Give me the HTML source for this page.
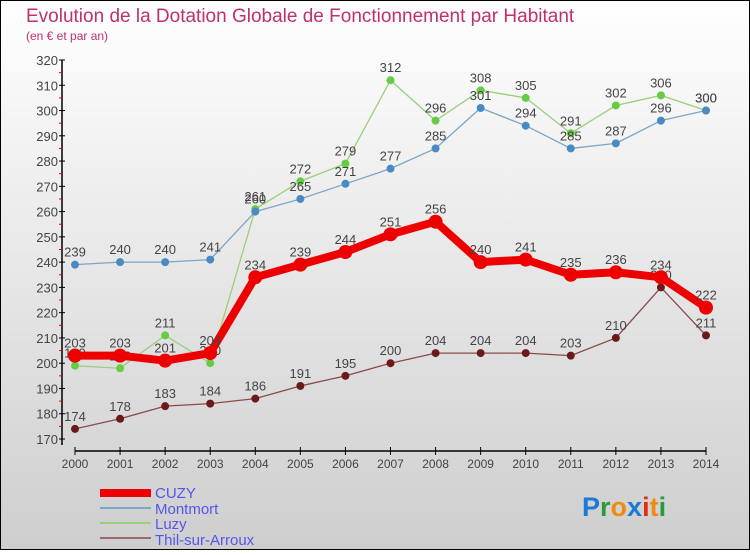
<!DOCTYPE html>
<html><head><meta charset="utf-8"><style>
html,body{margin:0;padding:0}
body{width:750px;height:550px;overflow:hidden;font-family:"Liberation Sans",sans-serif}
</style></head><body>
<svg id="chart" width="750" height="550" xmlns="http://www.w3.org/2000/svg">
<defs><linearGradient id="bg" x1="0" y1="0" x2="0" y2="1"><stop offset="0" stop-color="#ffffff"/><stop offset="1" stop-color="#cecece"/></linearGradient></defs>
<rect x="0.5" y="0.5" width="749" height="549" fill="url(#bg)" stroke="#000"/>
<text x="26" y="22" font-size="19" fill="#c0306a">Evolution de la Dotation Globale de Fonctionnement par Habitant</text>
<text x="26" y="40" font-size="12" fill="#c0306a">(en € et par an)</text>
<g id="axes"></g><g id="series"></g>
<g font-size="15" fill="#5555ee">
<rect x="100" y="489" width="51" height="8" fill="#e00"/>
<text x="155" y="498" fill="#5555ee">CUZY</text>
<rect x="100" y="507" width="51" height="2" fill="#7aa6c8"/>
<text x="155" y="514" fill="#5555ee">Montmort</text>
<rect x="100" y="522" width="51" height="2" fill="#99d07a"/>
<text x="155" y="529" fill="#5555ee">Luzy</text>
<rect x="100" y="537" width="51" height="2" fill="#9a6a6a"/>
<text x="155" y="545" fill="#5555ee">Thil-sur-Arroux</text>
</g>
<g font-size="27" font-weight="bold" font-family="Liberation Sans, sans-serif">
<text x="582" y="516"><tspan fill="#1a7ad4">P</tspan><tspan fill="#2a9a3a">r</tspan><tspan fill="#f08a10">o</tspan><tspan fill="#1a7ad4">x</tspan><tspan fill="#e03010">i</tspan><tspan fill="#f08a10">t</tspan><tspan fill="#2a9a3a">i</tspan></text>
</g>
</svg>
<script>
const years=[2000,2001,2002,2003,2004,2005,2006,2007,2008,2009,2010,2011,2012,2013,2014];
const cuzy=[203,203,201,204,234,239,244,251,256,240,241,235,236,234,222];
const montmort=[239,240,240,241,260,265,271,277,285,301,294,285,287,296,300];
const luzy=[199,198,211,200,261,272,279,312,296,308,305,291,302,306,300];
const thil=[174,178,183,184,186,191,195,200,204,204,204,203,210,230,211];
const yTicks=[170,180,190,200,210,220,230,240,250,260,270,280,290,300,310,320];
const NS="http://www.w3.org/2000/svg";
const X=i=>75+i*(706-75)/(years.length-1);
const Y=v=>439-(v-170)*(439-60)/150;
function mk(tag,attrs,parent){const e=document.createElementNS(NS,tag);for(const k in attrs)e.setAttribute(k,attrs[k]);parent.appendChild(e);return e;}
const ax=document.getElementById('axes');
mk('line',{x1:62,y1:Y(320),x2:62,y2:445,stroke:'#000','stroke-width':1.5},ax);
mk('line',{x1:75,y1:451,x2:706,y2:451,stroke:'#000','stroke-width':1.5},ax);
yTicks.forEach(v=>{
  const t=mk('text',{x:58,y:Y(v)+5,'font-size':13,'text-anchor':'end',fill:'#444'},ax);t.textContent=v;
  
  
  mk('line',{x1:59,y1:Y(v),x2:65,y2:Y(v),stroke:'#000'},ax);
  if(v<320)mk('line',{x1:59,y1:Y(v+5),x2:62,y2:Y(v+5),stroke:'#e00'},ax);
});
years.forEach((yr,i)=>{
  mk('line',{x1:X(i),y1:447,x2:X(i),y2:455,stroke:'#000'},ax);
  const t=mk('text',{x:X(i),y:468,'font-size':12,'text-anchor':'middle',fill:'#444'},ax);t.textContent=yr;
  
  
});
const sg=document.getElementById('series');
function draw(name,data,color,dot,w,r){
  const g=mk('g',{},sg);
  
  
  mk('polyline',{points:data.map((v,i)=>X(i)+','+Y(v)).join(' '),fill:'none',stroke:color,'stroke-width':w,'stroke-linejoin':'round'},g);
  data.forEach((v,i)=>{
    const c=mk('circle',{cx:X(i),cy:Y(v),r:r,fill:dot},g);
    
    
    const t=mk('text',{x:X(i),y:Y(v)-8,'font-size':13,'text-anchor':'middle',fill:'#444'},g);t.textContent=v;
  });
}
draw('series-thil',thil,'#8a4a4a','#6a1a1a',1.3,4);
draw('series-luzy',luzy,'#99d07a','#66cc44',1.3,4);
draw('series-montmort',montmort,'#7aa6c8','#4a8ac4',1.3,4);
draw('series-cuzy',cuzy,'#ee0000','#ee0000',8,7);
</script>
</body></html>
